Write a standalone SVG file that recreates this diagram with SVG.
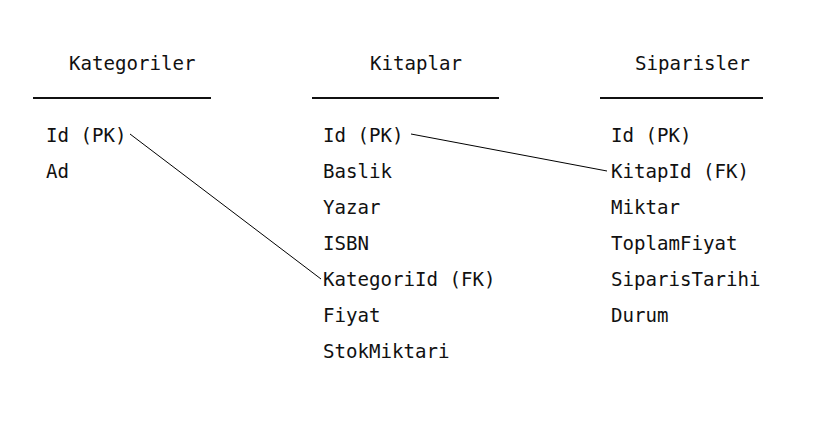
<svg xmlns="http://www.w3.org/2000/svg" width="826" height="426" viewBox="0 0 826 426">
<style>
text { font-family: "DejaVu Sans Mono", "Liberation Mono", monospace; font-size: 19.1px; fill: #111; }
.ul { stroke: #111; stroke-width: 1.8; }
.conn { stroke: #000; stroke-width: 1; fill: none; }
</style>
<rect width="826" height="426" fill="#fff"/>
<g id="Kategoriler">
  <text x="69" y="70">Kategoriler</text>
  <line class="ul" x1="33" y1="98" x2="211" y2="98"/>
  <text x="46" y="142">Id (PK)</text>
  <text x="46" y="178">Ad</text>
</g>
<g id="Kitaplar">
  <text x="370" y="70">Kitaplar</text>
  <line class="ul" x1="312" y1="98" x2="499" y2="98"/>
  <text x="323" y="142">Id (PK)</text>
  <text x="323" y="178">Baslik</text>
  <text x="323" y="214">Yazar</text>
  <text x="323" y="250">ISBN</text>
  <text x="323" y="286">KategoriId (FK)</text>
  <text x="323" y="322">Fiyat</text>
  <text x="323" y="358">StokMiktari</text>
</g>
<g id="Siparisler">
  <text x="635" y="70">Siparisler</text>
  <line class="ul" x1="600" y1="98" x2="763" y2="98"/>
  <text x="611" y="142">Id (PK)</text>
  <text x="611" y="178">KitapId (FK)</text>
  <text x="611" y="214">Miktar</text>
  <text x="611" y="250">ToplamFiyat</text>
  <text x="611" y="286">SiparisTarihi</text>
  <text x="611" y="322">Durum</text>
</g>
<g id="connectors">
  <line class="conn" x1="130" y1="134" x2="321" y2="279"/>
  <line class="conn" x1="411" y1="134" x2="607" y2="171"/>
</g>
</svg>
